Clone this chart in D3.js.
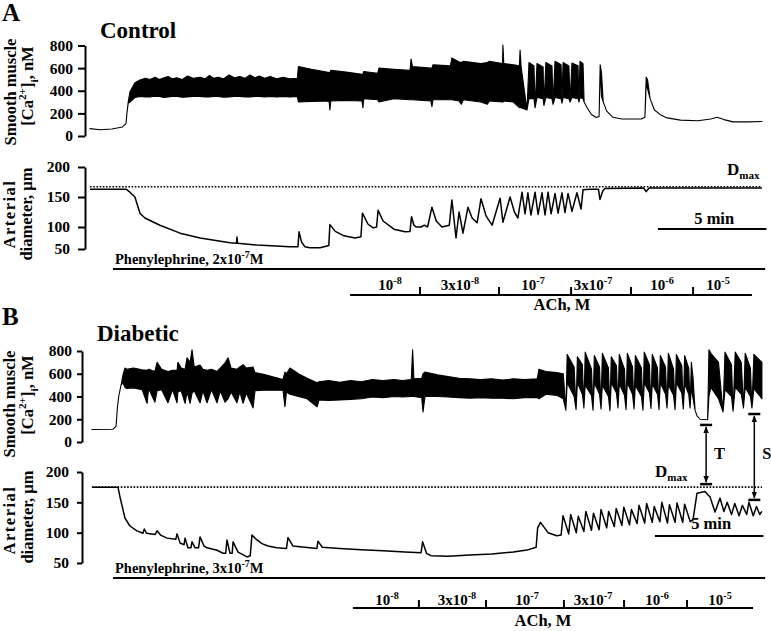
<!DOCTYPE html>
<html><head><meta charset="utf-8">
<script src="https://cdn.jsdelivr.net/npm/d3@7/dist/d3.min.js"></script>
<style>body{margin:0;background:#fff}svg{display:block}</style>
</head><body>
<svg id="c" width="771" height="631"></svg>
<script>
// ---------- DATA (time in minutes) ----------
// Ca traces: [t, low, high] envelope of the fast oscillations (nM)
const caControl = [
[0.00,65,65],[0.46,55,55],[1.00,62,62],[1.50,80,80],[1.66,110,110],[1.70,200,200],[1.76,290,300],[1.84,300,390],[2.07,340,470],[2.30,350,495],[2.55,345,510],[2.76,345,500],[3.00,352,520],[3.20,350,500],[3.40,340,515],[3.60,345,525],[3.80,350,505],[4.00,350,515],[4.25,342,500],[4.50,345,530],[4.75,350,510],[5.07,350,520],[5.30,345,505],[5.50,345,535],[5.70,350,510],[5.90,350,520],[6.15,342,505],[6.40,345,540],[6.65,350,515],[6.90,350,525],[7.15,345,510],[7.37,345,540],[7.60,350,515],[7.80,350,530],[8.05,345,510],[8.30,350,525],[8.60,345,505],[8.90,350,520],[9.20,345,505],[9.55,350,510],[9.60,300,615],[10.20,305,590],[10.90,310,565],[11.02,300,560],[11.05,230,560],[11.09,310,580],[11.80,315,565],[12.53,310,545],[12.57,250,545],[12.61,330,570],[13.25,320,555],[13.31,300,600],[14.00,330,590],[14.74,320,580],[14.79,320,680],[14.85,320,615],[15.70,310,600],[15.75,260,600],[15.80,320,630],[16.60,320,620],[16.67,320,690],[17.00,310,655],[17.10,280,650],[17.20,320,660],[18.00,300,640],[18.30,280,650],[18.40,310,660],[19.00,300,640],[19.02,300,805],[19.06,310,640],[19.50,300,630],[19.78,250,620],[19.81,250,760],[19.86,250,610],[20.13,230,230],
[20.22,330,650],[20.45,330,620],[20.50,250,250],[20.59,340,640],[20.87,330,610],[20.91,270,270],[21.00,340,650],[21.28,330,620],[21.33,280,280],[21.42,340,660],[21.70,330,630],[21.74,290,290],[21.79,340,650],[22.06,330,620],[22.11,300,300],[22.20,340,645],[22.48,330,620],[22.52,300,300],[22.57,340,660],[22.71,330,640],
[22.76,300,300],[22.90,250,250],[23.10,190,190],[23.30,165,165],[23.45,170,170],[23.50,600,630],[23.56,350,560],[23.64,300,300],[23.80,220,220],[24.09,165,165],[24.50,150,150],[25.40,150,150],[25.56,165,165],[25.62,450,520],[25.68,420,500],[25.80,330,330],[26.00,230,230],[26.30,185,185],[26.58,160,160],[27.20,140,140],[28.00,135,135],[28.60,150,150],[28.88,165,165],[29.20,145,145],[29.62,125,125],[30.30,125,125],[30.95,128,128]
];
// Arterial diameter: [t, µm]
const diamControl = [
[0,163],[1.66,163],[1.84,158],[2.07,150],[2.30,123],[2.53,115],[3.22,103],[4.15,86],[5.07,75],[6.45,64],[6.75,63],[6.77,77],[6.80,63],[7.69,59],[9.20,55],[9.58,55],[9.63,89],[9.75,65],[9.90,55],[10.13,53],[10.60,53],[11.00,58],[11.05,104],[11.30,90],[11.70,80],[12.21,75],[12.48,78],[12.55,123],[12.80,105],[13.04,98],[13.20,100],[13.27,128],[13.50,110],[14.00,95],[14.51,89],[14.74,90],[14.81,117],[14.92,103],[15.02,100],[15.25,100],[15.40,103],[15.55,100],[15.75,133],[15.95,110],[16.21,100],[16.55,103],[16.67,145],[16.86,75],[17.00,125],[17.18,86],[17.41,133],[17.60,115],[17.83,107],[18.01,147],[18.25,118],[18.52,103],[18.89,148],[19.02,108],[19.35,150],[19.55,125],[19.71,115],[19.90,158],[20.04,122],[20.17,157],[20.31,120],[20.50,158],[20.64,121],[20.82,157],[20.96,120],[21.10,158],[21.24,122],[21.42,156],[21.56,123],[21.74,157],[21.88,124],[22.02,156],[22.20,126],[22.43,157],[22.62,130],[22.71,162],[23.00,163],[23.42,163],[23.49,146],[23.62,160],[23.72,164],[25.50,165],[25.62,159],[25.75,165],[30.95,165]
];
const caDiabetic = [
[0.09,110,110],[1.06,112,112],[1.20,140,140],[1.26,300,300],[1.32,400,400],[1.43,500,500],[1.52,520,590],[1.61,480,650],[1.70,470,640],[2.00,475,650],[2.40,460,635],[2.63,340,630],[2.70,470,640],[2.99,350,620],[3.09,450,700],[3.30,460,640],[3.59,345,620],[3.80,460,630],[4.01,345,630],[4.05,440,700],[4.20,450,650],[4.38,340,640],[4.47,440,740],[4.61,340,700],[4.70,430,810],[4.80,450,660],[5.07,345,677],[5.20,450,640],[5.39,345,630],[5.60,460,640],[5.85,345,620],[6.00,450,650],[6.22,350,695],[6.36,380,740],[6.50,440,650],[6.77,345,640],[6.90,440,660],[7.05,340,680],[7.20,430,650],[7.51,300,660],[7.60,450,610],[8.00,455,595],[8.50,455,570],[8.89,455,550],[8.98,310,615],[9.05,440,600],[9.21,420,650],[9.60,400,600],[10.00,380,560],[10.46,310,520],[10.55,370,530],[11.00,365,540],[11.50,370,525],[12.00,375,540],[12.50,380,530],[13.00,395,550],[13.50,390,540],[14.00,400,550],[14.40,395,540],[14.80,400,550],[14.86,400,810],[14.92,400,555],[15.28,390,560],[15.34,265,600],[15.43,400,615],[16.00,400,590],[16.50,395,575],[17.00,390,560],[17.50,385,555],[18.00,390,550],[18.50,385,555],[19.00,385,545],[19.50,380,555],[20.00,390,550],[20.60,390,555],[20.68,380,640],[21.00,420,620],[21.50,410,610],[21.80,380,600],[21.92,280,280],
[21.98,520,770],[22.30,400,660],[22.39,285,285],[22.45,520,750],[22.68,420,680],[22.75,300,300],[22.81,500,790],[23.10,410,640],[23.17,280,280],[23.23,520,760],[23.47,420,660],[23.54,290,290],[23.60,500,780],[23.88,400,650],[23.95,275,275],[24.01,520,750],[24.25,430,670],[24.32,300,300],[24.38,510,770],[24.62,410,640],[24.69,285,285],[24.75,520,780],[24.99,420,660],[25.06,290,290],[25.12,500,760],[25.40,400,650],[25.47,280,280],[25.53,520,790],[25.77,430,680],[25.84,295,295],[25.90,510,770],[26.14,420,650],[26.21,285,285],[26.27,520,760],[26.51,420,660],[26.58,300,300],[26.64,500,780],[26.88,410,640],[26.95,285,285],[27.01,520,770],[27.26,430,670],[27.33,290,290],[27.39,510,760],[27.58,420,650],[27.64,300,300],
[27.70,480,700],[27.78,380,560],[27.87,280,280],[27.96,230,230],[28.10,200,200],[28.45,195,195],[28.51,400,810],[28.60,480,780],[28.95,380,700],[29.16,265,265],[29.25,460,790],[29.55,400,680],[29.62,270,270],[29.72,480,790],[30.00,420,700],[30.10,300,300],[30.18,480,780],[30.42,400,650],[30.49,300,300],[30.58,470,770],[30.95,380,700]
];
const diamDiabetic = [
[0.09,175],[1.29,175],[1.38,159],[1.61,124],[1.84,111],[2.16,103],[2.44,99],[2.50,106],[2.60,99],[3.00,97],[3.09,103],[3.25,96],[3.55,91],[3.95,89],[4.01,98],[4.15,83],[4.33,80],[4.38,91],[4.51,75],[4.65,75],[4.70,85],[4.84,75],[5.00,75],[5.07,93],[5.25,78],[5.39,75],[5.85,71],[6.13,66],[6.25,66],[6.31,88],[6.45,66],[6.55,66],[6.59,85],[6.82,68],[7.23,60],[7.38,62],[7.46,96],[7.69,88],[7.92,82],[8.20,78],[8.60,75],[9.05,74],[9.12,92],[9.35,78],[9.90,76],[10.45,74],[10.50,86],[10.70,76],[11.50,74],[12.50,72],[13.50,70],[14.50,68],[15.25,67],[15.32,85],[15.50,66],[15.70,62],[16.50,61],[17.50,63],[18.50,65],[19.50,68],[20.20,72],[20.55,76],[20.62,108],[20.75,117],[21.10,100],[21.50,95],[21.70,96],
[21.79,128],[22.05,98],[22.14,130],[22.40,100],[22.49,127],[22.75,102],[22.84,135],[23.10,104],[23.19,132],[23.45,105],[23.54,138],[23.80,108],[23.89,135],[24.15,110],[24.24,140],[24.50,112],[24.59,142],[24.85,113],[24.94,138],[25.20,115],[25.29,145],[25.55,116],[25.64,148],[25.90,117],[25.99,143],[26.25,118],[26.34,150],[26.60,116],[26.69,146],[26.95,117],[27.04,149],[27.30,117],[27.39,147],[27.65,118],
[27.78,122],[27.96,165],[28.33,168],[28.47,162],[28.56,159],[28.79,134],[29.02,157],[29.20,135],[29.35,150],[29.55,130],[29.70,148],[29.90,128],[30.05,145],[30.25,130],[30.35,150],[30.55,128],[30.70,143],[30.85,130],[30.95,135]
];
const caTicks = [0, 200, 400, 600, 800];
const diamTicks = [50, 100, 150, 200];
const dmaxControl = 167, dmaxDiabetic = 175;
const achLabels = [["10","-8"],["3x10","-8"],["10","-7"],["3x10","-7"],["10","-6"],["10","-5"]];
// ACh bar: start, tick boundaries, end (min); label centres (min)
const achControl = {start:11.98, ticks:[15.20,18.84,22.16,24.92,27.78], end:30.49, labelT:[13.82,17.04,20.41,23.17,26.35,28.93]};
const achDiabetic = {start:12.11, ticks:[15.15,18.24,21.83,24.60,27.50], end:30.54, labelT:[13.68,16.90,20.13,23.17,26.12,29.02]};
const pheControl = {start:1.06, end:31.1, dose:"2x10"};
const pheDiabetic = {start:1.06, end:31.1, dose:"3x10"};
const scaleBarMin = 5;
const arrowsTS = [{label:"T", t:28.38, ca:150, diam:180}, {label:"S", t:30.60, ca:246, diam:154}];

// ---------- SCALES ----------
const FONT = '"Liberation Serif","Times New Roman",serif';
const svg = d3.select('#c').attr('font-family', FONT).attr('font-weight','bold');
svg.append('rect').attr('width',771).attr('height',631).attr('fill','#fff');
const x = d3.scaleLinear().domain([0, 31]).range([90, 763]);
const yCaA = d3.scaleLinear().domain([0, 800]).range([136, 45.5]);
const yDA = d3.scaleLinear().domain([50, 100, 150, 200]).range([249, 227, 197, 167]);
const yCaB = d3.scaleLinear().domain([0, 800]).range([442, 351]);
const yDB = d3.scaleLinear().domain([50, 200]).range([563, 472]);

function rich(sel, parts, fs) {
  let cur = 0;
  parts.forEach(([s, k]) => {
    const target = k === 'sup' ? -fs*0.42 : k === 'sub' ? fs*0.3 : 0;
    sel.append('tspan').attr('dy', target - cur).attr('font-size', k === 'n' ? fs : fs*0.68).text(s);
    cur = target;
  });
}
function yAxis(scale, xpos, ticks, tl, pad) {
  const g = svg.append('g').attr('transform', `translate(${xpos},0)`)
    .call(d3.axisLeft(scale).tickValues(ticks).tickSize(tl).tickSizeOuter(0).tickPadding(pad).tickFormat(d3.format('d')));
  g.attr('font-family', FONT).attr('font-size', 15.5).attr('font-weight','bold');
  g.select('.domain').attr('stroke','#000').attr('stroke-width', 2);
  g.selectAll('.tick line').attr('stroke','#000').attr('stroke-width', 2);
  g.selectAll('.tick text').attr('fill','#000');
}
function yTitle(cx, cy, parts, fs, ls) {
  const t = svg.append('text').attr('transform', `translate(${cx},${cy}) rotate(-90)`)
    .attr('text-anchor','middle').attr('font-size', fs).attr('letter-spacing', ls || 0);
  rich(t, parts, fs);
}
function caTrace(data, ys) {
  const area = d3.area().x(d => x(d[0])).y0(d => ys(d[1])).y1(d => ys(d[2]));
  svg.append('path').datum(data).attr('d', area).attr('fill','#000').attr('stroke','#000')
    .attr('stroke-width', 1.1).attr('stroke-linejoin','round');
}
function dTrace(data, ys) {
  const line = d3.line().x(d => x(d[0])).y(d => ys(d[1]));
  svg.append('path').datum(data).attr('d', line).attr('fill','none').attr('stroke','#000')
    .attr('stroke-width', 1.5).attr('stroke-linejoin','round');
}
function dmax(val, ys, t0, lx, ly) {
  svg.append('line').attr('x1', x(t0)).attr('x2', x(30.95)).attr('y1', ys(val)).attr('y2', ys(val))
    .attr('stroke','#000').attr('stroke-width',1.6).attr('stroke-dasharray','1.6,1.6');
  const t = svg.append('text').attr('x', lx).attr('y', ly);
  t.append('tspan').attr('font-size', 17).text('D');
  t.append('tspan').attr('font-size', 11).attr('dy', 4).text('max');
}
function phe(p, yLine, yText) {
  svg.append('line').attr('x1', x(p.start)).attr('x2', x(p.end)).attr('y1', yLine).attr('y2', yLine)
    .attr('stroke','#000').attr('stroke-width', 2);
  const t = svg.append('text').attr('x', 115).attr('y', yText);
  rich(t, [["Phenylephrine, " + p.dose, 'n'], ["-7", 'sup'], ["M", 'n']], 14.5);
}
function ach(a, yLine, yLab, yTitleY, titleX) {
  svg.append('line').attr('x1', x(a.start)).attr('x2', x(a.end)).attr('y1', yLine).attr('y2', yLine)
    .attr('stroke','#000').attr('stroke-width', 2);
  a.ticks.forEach(t => svg.append('line').attr('x1', x(t)).attr('x2', x(t)).attr('y1', yLine).attr('y2', yLine - 8)
    .attr('stroke','#000').attr('stroke-width', 2));
  achLabels.forEach((l, i) => {
    const t = svg.append('text').attr('x', x(a.labelT[i])).attr('y', yLab).attr('text-anchor','middle');
    rich(t, [[l[0], 'n'], [l[1], 'sup']], 15);
  });
  svg.append('text').attr('x', titleX).attr('y', yTitleY).attr('text-anchor','middle').attr('font-size', 16.5).text('ACh, M');
}
function scaleBar(t0, yLine, yText) {
  svg.append('line').attr('x1', x(t0)).attr('x2', x(t0 + scaleBarMin)).attr('y1', yLine).attr('y2', yLine)
    .attr('stroke','#000').attr('stroke-width', 2);
  svg.append('text').attr('x', (x(t0) + x(t0 + scaleBarMin)) / 2 + 2).attr('y', yText).attr('text-anchor','middle')
    .attr('font-size', 16.5).text(scaleBarMin + ' min');
}

// ---------- PANEL A ----------
svg.append('text').attr('x', 2).attr('y', 21).attr('font-size', 25).text('A');
svg.append('text').attr('x', 100).attr('y', 38).attr('font-size', 23).text('Control');
yAxis(yCaA, 85, caTicks, 7, 5);
yAxis(yDA, 85, diamTicks, 7, 8);
yTitle(16, 92, [["Smooth muscle",'n']], 16.5);
yTitle(33, 86, [["[Ca",'n'],["2+",'sup'],["]",'n'],["i",'sub'],[", nM",'n']], 16.5);
yTitle(15, 214, [["Arterial",'n']], 16.5, 1.5);
yTitle(32, 214, [["diameter, µm",'n']], 16.5);
caTrace(caControl, yCaA);
dmax(dmaxControl, yDA, 0, 727, 175);
dTrace(diamControl, yDA);
scaleBar(26.16, 229, 224);
phe(pheControl, 269, 264);
ach(achControl, 295, 290, 310, 562);

// ---------- PANEL B ----------
svg.append('text').attr('x', 2).attr('y', 325).attr('font-size', 25).text('B');
svg.append('text').attr('x', 97).attr('y', 341).attr('font-size', 23).text('Diabetic');
yAxis(yCaB, 82, caTicks, 5, 5);
yAxis(yDB, 82, diamTicks, 5, 8);
yTitle(15, 404, [["Smooth muscle",'n']], 16.5);
yTitle(33, 395, [["[Ca",'n'],["2+",'sup'],["]",'n'],["i",'sub'],[", nM",'n']], 16.5);
yTitle(15, 520, [["Arterial",'n']], 16.5, 1.5);
yTitle(33, 517, [["diameter, µm",'n']], 16.5);
caTrace(caDiabetic, yCaB);
dmax(dmaxDiabetic, yDB, 0.09, 655, 477);
dTrace(diamDiabetic, yDB);
scaleBar(26.02, 536, 529);
phe(pheDiabetic, 578, 573);
ach(achDiabetic, 608, 605, 626, 543);

// T / S arrows
const defs = svg.append('defs');
defs.append('marker').attr('id','ah').attr('viewBox','0 0 10 10').attr('refX',9).attr('refY',5)
  .attr('markerWidth',7).attr('markerHeight',7).attr('markerUnits','userSpaceOnUse').attr('orient','auto-start-reverse')
  .append('path').attr('d','M0,1 L10,5 L0,9 Z').attr('fill','#000');
arrowsTS.forEach(a => {
  const xa = x(a.t), y1 = yCaB(a.ca), y2 = yDB(a.diam);
  [y1, y2].forEach(yy => {
    svg.append('line').attr('x1', xa - 6).attr('x2', xa + 6).attr('y1', yy).attr('y2', yy).attr('stroke','#000').attr('stroke-width', 2.5);
  });
  svg.append('line').attr('x1', xa).attr('x2', xa).attr('y1', y1 + 2).attr('y2', y2 - 2)
    .attr('stroke','#000').attr('stroke-width', 1.5).attr('marker-start','url(#ah)').attr('marker-end','url(#ah)');
  svg.append('text').attr('x', xa + 8).attr('y', 459).attr('font-size', 16.5).text(a.label);
});
</script>
</body></html>
